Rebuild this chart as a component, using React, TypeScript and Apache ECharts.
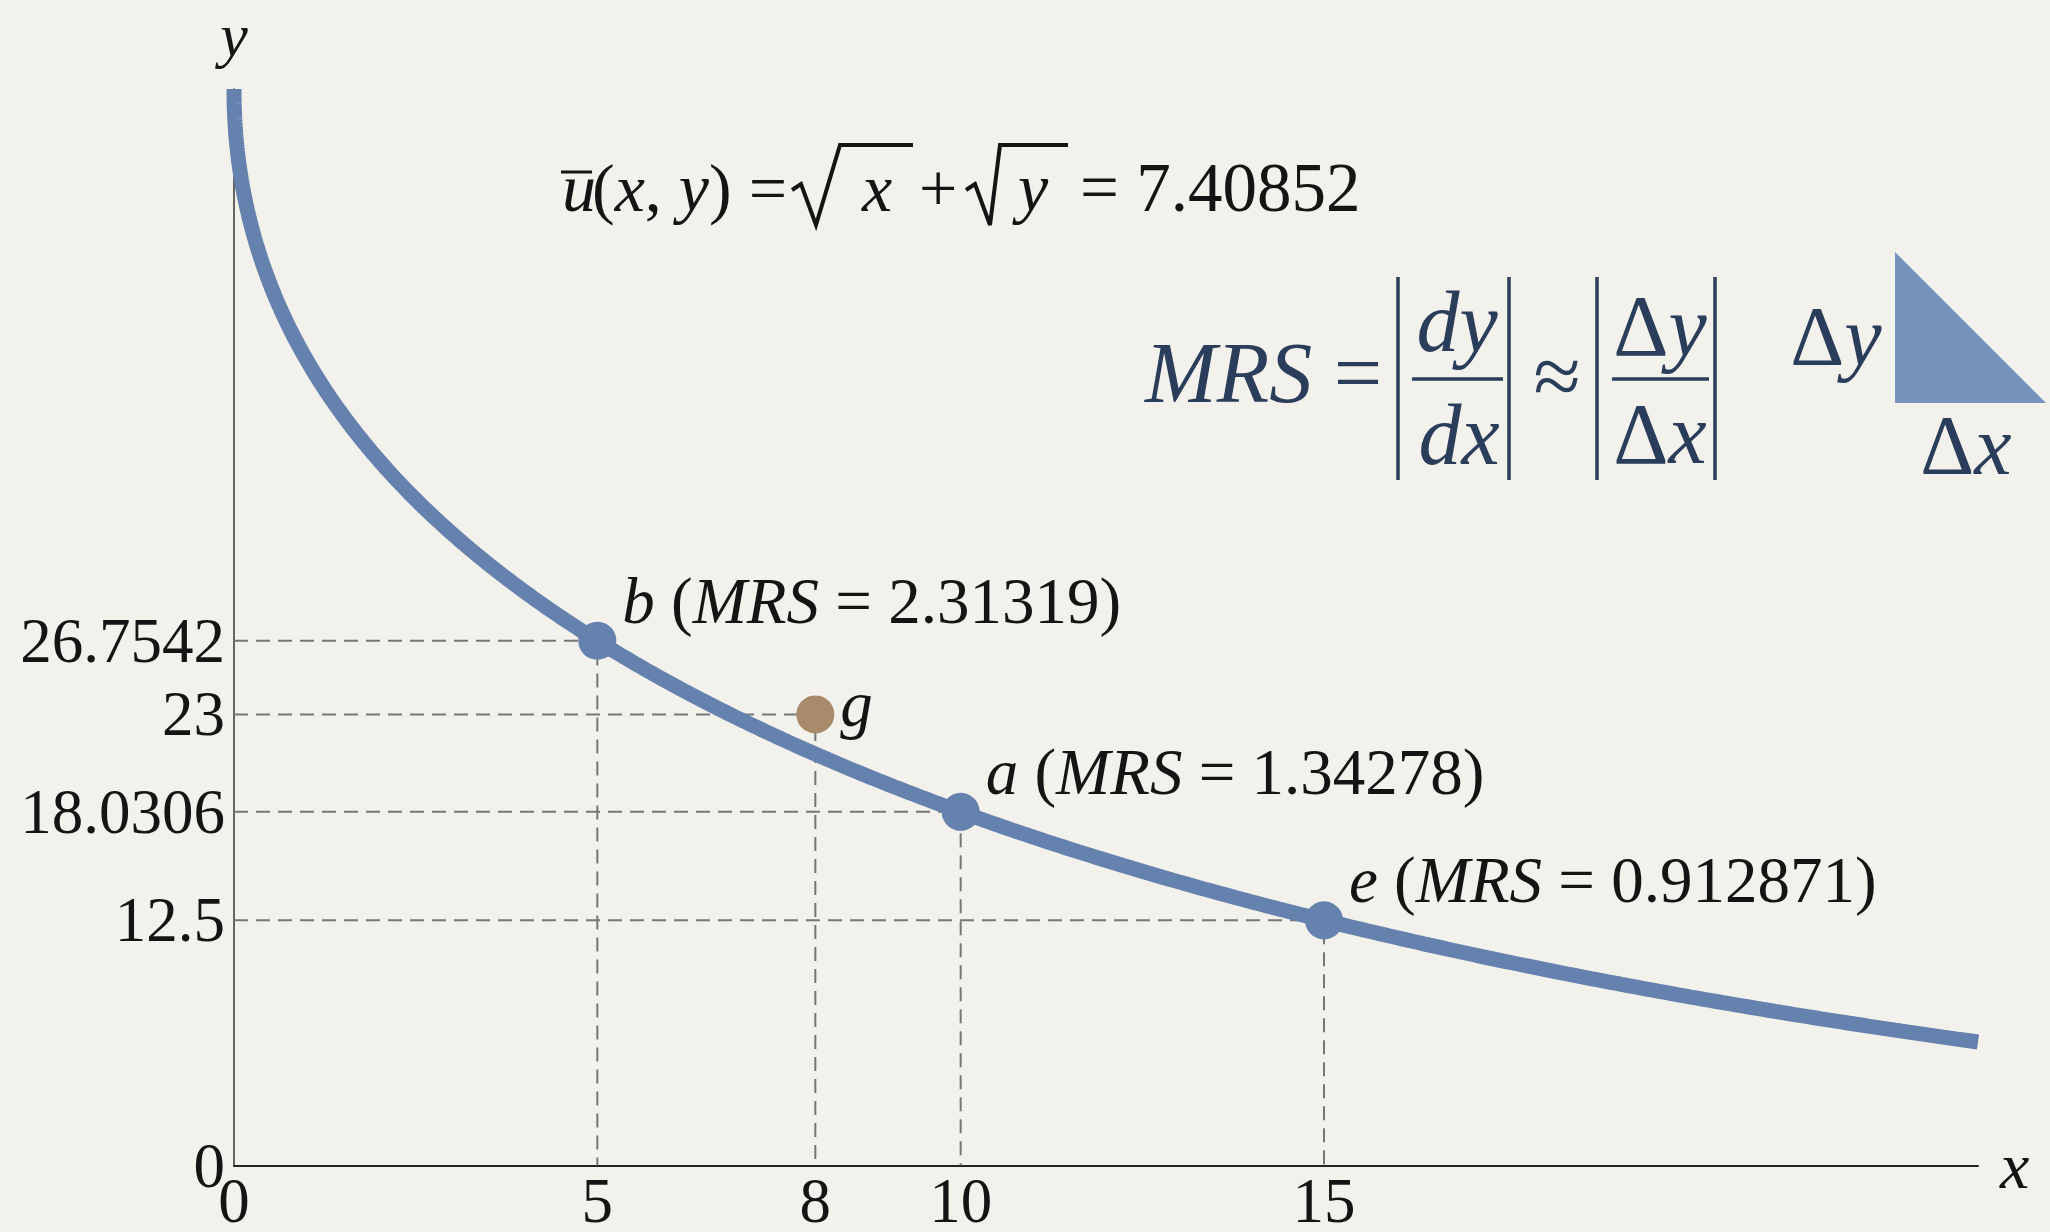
import React, { useEffect, useRef } from "react";
import * as echarts from "echarts";

// Utility level of the indifference curve: sqrt(x) + sqrt(y) = UTILITY
const UTILITY = 7.40852;
const X_MAX = 24;

// Bundles on the curve and their marginal rates of substitution
const pointNames = ["b", "a", "e"];
const pointX = [5, 10, 15];
const pointY = [26.7542, 18.0306, 12.5];
const pointMRS = ["2.31319", "1.34278", "0.912871"];

// Bundle off the curve
const offName = "g";
const offX = 8;
const offY = 23;

// Axis tick labels
const xTicks = [0, 5, 8, 10, 15];
const yTicks = [0, 12.5, 18.0306, 23, 26.7542];
const yTickLabels = ["0", "12.5", "18.0306", "23", "26.7542"];

const SERIF = "'Liberation Serif', 'Times New Roman', serif";
const CURVE = "#6581ad";
const BROWN = "#a88b6a";
const INK = "#141414";
const NAVY = "#2a3d5a";
const GUIDE = "#767676";

// Indifference curve y = (U - sqrt(x))^2, sampled densely near the y-axis
function buildCurve(): number[][] {
  const pts: number[][] = [];
  const n = 500;
  for (let i = 0; i <= n; i++) {
    const x = X_MAX * Math.pow(i / n, 2);
    const r = UTILITY - Math.sqrt(x);
    pts.push([x, r * r]);
  }
  return pts;
}

function guide(x: number, y: number) {
  return {
    type: "line",
    data: [
      [0, y],
      [x, y],
      [x, 0],
    ],
    showSymbol: false,
    symbol: "none",
    silent: true,
    z: 1,
    lineStyle: { color: GUIDE, width: 2, type: [14, 8] },
  };
}

function italicRich(size: number, color: string) {
  return { fontFamily: SERIF, fontStyle: "italic", fontSize: size, fill: color, color };
}

function buildOption() {
  const yMax = UTILITY * UTILITY;

  const guides = pointX.map((x, i) => guide(x, pointY[i]));
  guides.push(guide(offX, offY));

  const graphic: any[] = [
    // u-bar(x, y) = sqrt(x) + sqrt(y) = U
    { type: "text", x: 562, y: 188, style: { text: "u", font: `italic 68px ${SERIF}`, fill: INK, verticalAlign: "middle" } },
    { type: "line", shape: { x1: 561, y1: 172, x2: 592, y2: 172 }, style: { stroke: INK, lineWidth: 3 } },
    {
      type: "text",
      x: 592,
      y: 188,
      style: {
        text: "({i|x}, {i|y}) =",
        font: `68px ${SERIF}`,
        fill: INK,
        verticalAlign: "middle",
        rich: { i: italicRich(68, INK) },
      },
    },
    {
      type: "polyline",
      shape: { points: [[792, 190], [801, 184], [816, 225], [840, 145], [913, 145]] },
      style: { stroke: INK, lineWidth: 4, fill: null, lineJoin: "miter" },
    },
    { type: "text", x: 862, y: 188, style: { text: "x", font: `italic 68px ${SERIF}`, fill: INK, verticalAlign: "middle" } },
    { type: "text", x: 919, y: 188, style: { text: "+", font: `68px ${SERIF}`, fill: INK, verticalAlign: "middle" } },
    {
      type: "polyline",
      shape: { points: [[966, 190], [975, 184], [990, 225], [1000, 145], [1068, 145]] },
      style: { stroke: INK, lineWidth: 4, fill: null, lineJoin: "miter" },
    },
    { type: "text", x: 1018, y: 188, style: { text: "y", font: `italic 68px ${SERIF}`, fill: INK, verticalAlign: "middle" } },
    { type: "text", x: 1080, y: 188, style: { text: `= ${UTILITY}`, font: `69px ${SERIF}`, fill: INK, verticalAlign: "middle" } },

    // MRS = |dy/dx| ≈ |Δy/Δx|
    {
      type: "text",
      x: 1145,
      y: 373,
      style: {
        text: "{i|MRS} =",
        font: `86px ${SERIF}`,
        fill: NAVY,
        verticalAlign: "middle",
        rich: { i: italicRich(86, NAVY) },
      },
    },
    { type: "line", shape: { x1: 1398, y1: 277, x2: 1398, y2: 480 }, style: { stroke: NAVY, lineWidth: 3.5 } },
    { type: "line", shape: { x1: 1509, y1: 277, x2: 1509, y2: 480 }, style: { stroke: NAVY, lineWidth: 3.5 } },
    { type: "line", shape: { x1: 1597, y1: 277, x2: 1597, y2: 480 }, style: { stroke: NAVY, lineWidth: 3.5 } },
    { type: "line", shape: { x1: 1715, y1: 277, x2: 1715, y2: 480 }, style: { stroke: NAVY, lineWidth: 3.5 } },
    { type: "line", shape: { x1: 1412, y1: 379, x2: 1503, y2: 379 }, style: { stroke: NAVY, lineWidth: 3.5 } },
    { type: "line", shape: { x1: 1612, y1: 379, x2: 1709, y2: 379 }, style: { stroke: NAVY, lineWidth: 3.5 } },
    { type: "text", x: 1457, y: 322, style: { text: "dy", font: `italic 86px ${SERIF}`, fill: NAVY, align: "center", verticalAlign: "middle" } },
    { type: "text", x: 1459, y: 435, style: { text: "dx", font: `italic 86px ${SERIF}`, fill: NAVY, align: "center", verticalAlign: "middle" } },
    { type: "text", x: 1557, y: 376, style: { text: "≈", font: `86px ${SERIF}`, fill: NAVY, align: "center", verticalAlign: "middle" } },
    {
      type: "text",
      x: 1660,
      y: 326,
      style: {
        text: "Δ{i|y}",
        font: `86px ${SERIF}`,
        fill: NAVY,
        align: "center",
        verticalAlign: "middle",
        rich: { i: italicRich(86, NAVY) },
      },
    },
    {
      type: "text",
      x: 1660,
      y: 434,
      style: {
        text: "Δ{i|x}",
        font: `86px ${SERIF}`,
        fill: NAVY,
        align: "center",
        verticalAlign: "middle",
        rich: { i: italicRich(86, NAVY) },
      },
    },

    // Rise-over-run triangle
    {
      type: "polygon",
      shape: { points: [[1895, 252], [1895, 403], [2046, 403]] },
      style: { fill: "#7593bd" },
    },
    {
      type: "text",
      x: 1836,
      y: 336,
      style: {
        text: "Δ{i|y}",
        font: `84px ${SERIF}`,
        fill: NAVY,
        align: "center",
        verticalAlign: "middle",
        rich: { i: italicRich(84, NAVY) },
      },
    },
    {
      type: "text",
      x: 1966,
      y: 445,
      style: {
        text: "Δ{i|x}",
        font: `84px ${SERIF}`,
        fill: NAVY,
        align: "center",
        verticalAlign: "middle",
        rich: { i: italicRich(84, NAVY) },
      },
    },
  ];

  return {
    animation: false,
    backgroundColor: "#f3f1eb",
    grid: { left: 234, top: 89, right: 72, bottom: 65 },
    xAxis: {
      type: "value",
      min: 0,
      max: X_MAX,
      name: "x",
      nameLocation: "end",
      nameGap: 22,
      nameTextStyle: { fontFamily: SERIF, fontStyle: "italic", fontSize: 66, color: INK, verticalAlign: "middle", lineHeight: 52 },
      axisLine: { show: true, lineStyle: { color: "#222", width: 2 } },
      axisTick: { show: false },
      splitLine: { show: false },
      axisLabel: {
        customValues: xTicks,
        fontFamily: SERIF,
        fontSize: 63,
        lineHeight: 48,
        color: INK,
        margin: 11,
        formatter: (v: number) => String(v),
      },
    },
    yAxis: {
      type: "value",
      min: 0,
      max: yMax,
      name: "y",
      nameLocation: "end",
      nameGap: 29,
      nameTextStyle: { fontFamily: SERIF, fontStyle: "italic", fontSize: 62, color: INK, align: "center", lineHeight: 50 },
      axisLine: { show: true, lineStyle: { color: "#333", width: 1.5 } },
      axisTick: { show: false },
      splitLine: { show: false },
      axisLabel: {
        customValues: yTicks,
        fontFamily: SERIF,
        fontSize: 63,
        color: INK,
        margin: 9,
        formatter: (v: number) => {
          let best = 0;
          yTicks.forEach((t, i) => {
            if (Math.abs(t - v) < Math.abs(yTicks[best] - v)) best = i;
          });
          return yTickLabels[best];
        },
      },
    },
    series: [
      ...guides,
      {
        type: "line",
        data: buildCurve(),
        showSymbol: false,
        symbol: "none",
        clip: true,
        z: 3,
        lineStyle: { color: CURVE, width: 15, cap: "butt" },
      },
      {
        type: "scatter",
        data: pointX.map((x, i) => ({ value: [x, pointY[i]], name: pointNames[i] })),
        symbolSize: 38,
        z: 5,
        itemStyle: { color: CURVE, opacity: 1 },
        label: {
          show: true,
          position: "right",
          distance: 6,
          offset: [0, -40],
          fontFamily: SERIF,
          fontSize: 65,
          color: INK,
          formatter: (p: any) => `{i|${p.name}} ({i|MRS} = ${pointMRS[p.dataIndex]})`,
          rich: { i: italicRich(65, INK) },
        },
      },
      {
        type: "scatter",
        data: [{ value: [offX, offY], name: offName }],
        symbolSize: 38,
        z: 5,
        itemStyle: { color: BROWN, opacity: 1 },
        label: {
          show: true,
          position: "right",
          distance: 6,
          offset: [0, -10],
          fontFamily: SERIF,
          fontStyle: "italic",
          fontSize: 65,
          color: INK,
          formatter: (p: any) => p.name,
        },
      },
    ],
    graphic,
  };
}

export default function App() {
  const ref = useRef<HTMLDivElement>(null);

  useEffect(() => {
    document.body.style.margin = "0";
    if (!ref.current) return;
    const chart = echarts.init(ref.current, undefined, { renderer: "svg" });
    chart.setOption(buildOption() as any);
    return () => chart.dispose();
  }, []);

  return (
    <div
      ref={ref}
      style={{ position: "absolute", left: 0, top: 0, width: 2050, height: 1232 }}
    />
  );
}
